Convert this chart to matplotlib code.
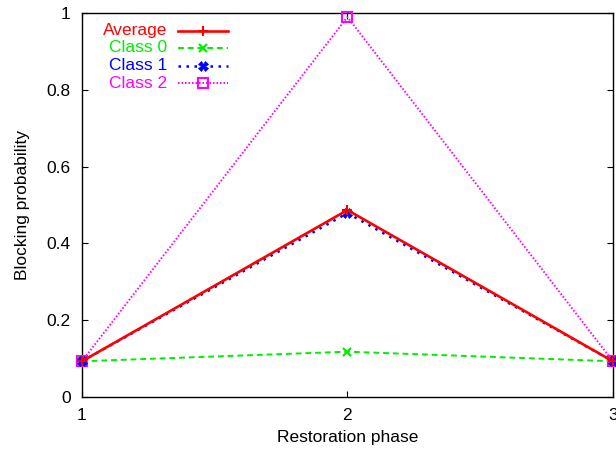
import matplotlib
matplotlib.use("Agg")
import matplotlib.pyplot as plt
from matplotlib.lines import Line2D

plt.rcParams['font.family'] = ['Liberation Sans', 'DejaVu Sans']

phases = [1, 2, 3]
average = [0.093, 0.487, 0.093]
class0 = [0.093, 0.118, 0.093]
class1 = [0.093, 0.479, 0.093]
class2 = [0.093, 0.99, 0.093]
labels = ["Average", "Class 0", "Class 1", "Class 2"]
yticks = [0, 0.2, 0.4, 0.6, 0.8, 1]
yticklabels = ["0", "0.2", "0.4", "0.6", "0.8", "1"]

FS = 12.5

fig = plt.figure(figsize=(6.16, 4.54), dpi=100)
ax = fig.add_axes([0.133, 0.1256, 0.862, 0.8454])

styles = [
    dict(color='#ff0000', ls='-', lw=1.9, marker='+', ms=7, mew=1.5),
    dict(color='#00ee00', ls=(0, (3, 2)), lw=1.4, marker='x', ms=6, mew=1.6),
    dict(color='#0000ff', ls=(0, (1, 2.2)), lw=1.8, marker='X', ms=7, mew=0.5),
    dict(color='#ff00ff', ls=(0, (0.8, 1.0)), lw=1.4, marker='s', ms=7, mew=1.5,
         mfc='none'),
]
series = [average, class0, class1, class2]

order = [3, 1, 2, 0]
for i in order:
    st = dict(styles[i])
    ax.plot(phases, series[i], clip_on=False, zorder=3 + (i == 0), **st)

ax.set_xlim(1, 3)
ax.set_ylim(0, 1)
ax.set_xticks(phases)
ax.set_xticklabels([str(p) for p in phases])
ax.set_yticks(yticks)
ax.set_yticklabels(yticklabels)
ax.tick_params(direction='in', length=4.5, width=0.8, top=True, right=True,
               labelsize=FS, pad=8, colors='black')
for s in ax.spines.values():
    s.set_linewidth(1.0)
ax.set_xlabel("Restoration phase", fontsize=FS, labelpad=5)
ax.set_ylabel("Blocking probability", fontsize=FS, labelpad=12)

# gnuplot-style key: right-aligned text, sample line to the right
row_y = [31, 48, 66, 83]
for i, lab in enumerate(labels):
    yfig = 1 - row_y[i] / 454
    fig.text(167 / 616, yfig, lab, color=styles[i]['color'], ha='right',
             va='center', fontsize=FS)
    st = dict(styles[i])
    ln = Line2D([178 / 616, 228 / 616], [yfig, yfig], transform=fig.transFigure,
                color=st['color'], ls=st['ls'], lw=st['lw'])
    fig.add_artist(ln)
    mk = Line2D([203 / 616], [yfig], transform=fig.transFigure,
                color=st['color'], ls='none', marker=st['marker'], ms=st['ms'],
                mew=st['mew'], mfc=st.get('mfc', st['color']))
    fig.add_artist(mk)

fig.savefig("out.png", dpi=100)
